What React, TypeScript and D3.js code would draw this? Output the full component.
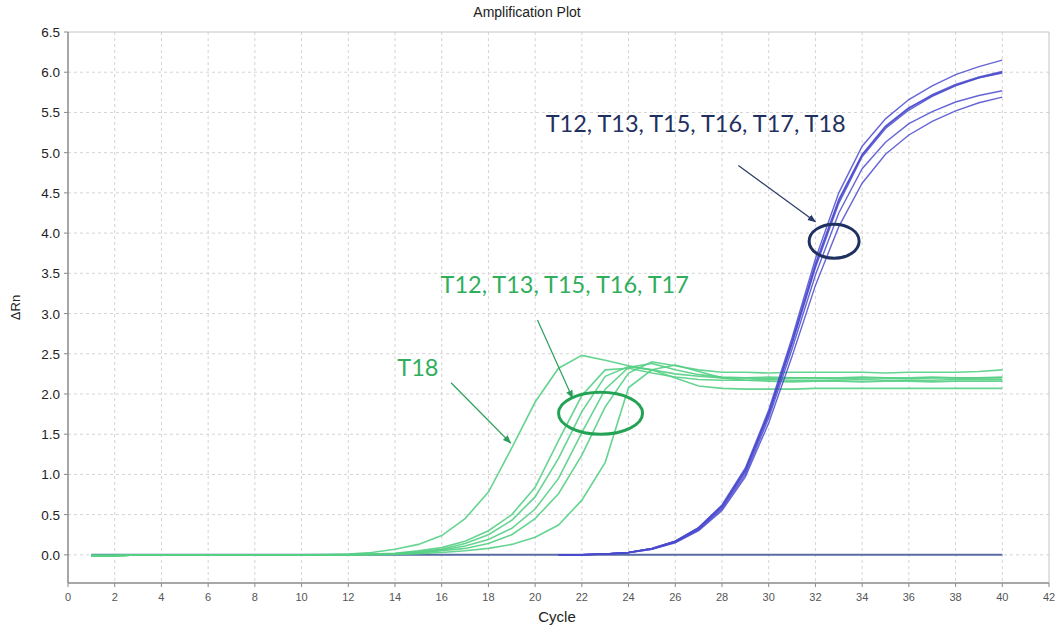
import React from 'react'
import * as d3 from 'd3'

// cycles 1..40
const cycles = d3.range(1, 41)
const blueCycles = d3.range(21, 41)

const xTicks = d3.range(0, 43, 2)
const yTicks = d3.range(0, 6.51, 0.5)

// green curves (earlier target)
const greenT18 = [-0.01, -0.01, 0, 0, 0, 0, 0, 0, 0, 0, 0.003, 0.01, 0.03, 0.07, 0.13, 0.24, 0.45, 0.78, 1.33, 1.9,
    2.32, 2.48, 2.42, 2.35, 2.3, 2.25, 2.22, 2.2, 2.2, 2.19, 2.2, 2.2, 2.19, 2.2, 2.2, 2.19, 2.2, 2.2, 2.2, 2.21]
const greenT12 = [-0.01, -0.01, 0, 0, 0, 0, 0, 0, 0, 0, 0, 0.003, 0.01, 0.02, 0.05, 0.09, 0.17, 0.3, 0.5, 0.84,
    1.42, 1.98, 2.3, 2.32, 2.26, 2.21, 2.18, 2.17, 2.17, 2.18, 2.17, 2.17, 2.17, 2.18, 2.17, 2.17, 2.17, 2.18, 2.18, 2.18]
const greenT13 = [-0.01, -0.01, 0, 0, 0, 0, 0, 0, 0, 0, 0, 0.002, 0.007, 0.015, 0.04, 0.07, 0.14, 0.25, 0.43, 0.72,
    1.2, 1.78, 2.22, 2.34, 2.3, 2.2, 2.1, 2.07, 2.06, 2.06, 2.06, 2.07, 2.07, 2.07, 2.07, 2.07, 2.07, 2.07, 2.07, 2.07]
const greenT15 = [-0.01, -0.01, 0, 0, 0, 0, 0, 0, 0, 0, 0, 0.002, 0.005, 0.01, 0.03, 0.06, 0.11, 0.19, 0.33, 0.57,
    0.95, 1.52, 2.06, 2.33, 2.38, 2.3, 2.24, 2.21, 2.2, 2.21, 2.2, 2.2, 2.2, 2.21, 2.2, 2.2, 2.21, 2.2, 2.2, 2.2]
const greenT16 = [-0.01, -0.01, 0, 0, 0, 0, 0, 0, 0, 0, 0, 0.001, 0.004, 0.008, 0.02, 0.05, 0.08, 0.14, 0.25, 0.45,
    0.76, 1.24, 1.84, 2.26, 2.4, 2.35, 2.3, 2.27, 2.27, 2.26, 2.27, 2.27, 2.27, 2.27, 2.26, 2.27, 2.27, 2.27, 2.28, 2.3]
const greenT17 = [-0.01, -0.01, 0, 0, 0, 0, 0, 0, 0, 0, 0, 0, 0.002, 0.006, 0.015, 0.03, 0.05, 0.08, 0.13, 0.22,
    0.37, 0.68, 1.15, 2.08, 2.3, 2.36, 2.28, 2.2, 2.17, 2.16, 2.15, 2.16, 2.16, 2.15, 2.16, 2.16, 2.15, 2.16, 2.16, 2.16]

// blue curves, cycles 21..40
const blueT12 = [0, 0.003, 0.01, 0.03, 0.08, 0.17, 0.34, 0.62, 1.08, 1.8, 2.7, 3.68, 4.5, 5.08, 5.42, 5.66, 5.83, 5.97, 6.07, 6.15]
const blueT13 = [0, 0.003, 0.01, 0.03, 0.08, 0.17, 0.33, 0.6, 1.05, 1.76, 2.64, 3.6, 4.4, 4.97, 5.32, 5.55, 5.72, 5.85, 5.94, 6.01]
const blueT15 = [0, 0.003, 0.01, 0.03, 0.075, 0.16, 0.32, 0.59, 1.03, 1.74, 2.62, 3.57, 4.37, 4.95, 5.3, 5.53, 5.7, 5.83, 5.93, 6.0]
const blueT16 = [0, 0.002, 0.01, 0.03, 0.08, 0.17, 0.34, 0.61, 1.06, 1.77, 2.66, 3.62, 4.42, 4.98, 5.33, 5.56, 5.71, 5.84, 5.93, 5.99]
const blueT17 = [0, 0.002, 0.01, 0.03, 0.07, 0.16, 0.31, 0.57, 1.0, 1.7, 2.56, 3.48, 4.25, 4.8, 5.13, 5.36, 5.51, 5.63, 5.71, 5.77]
const blueT18 = [0, 0.002, 0.01, 0.025, 0.07, 0.15, 0.3, 0.55, 0.97, 1.64, 2.47, 3.35, 4.08, 4.62, 4.98, 5.22, 5.39, 5.52, 5.62, 5.69]

// no-template baseline, cycles 1..40
const ntc = cycles.map(() => 0)

const greenSeries = [greenT18, greenT12, greenT13, greenT15, greenT16, greenT17]
const blueSeries = [blueT12, blueT13, blueT15, blueT16, blueT17, blueT18]

const NAVY = '#1f3160'
const GREEN_TXT = '#2fae5c'

const W = 1061
const H = 633
const margin = { top: 32, right: 12, bottom: 50, left: 68 }

export default function App() {
    const x = d3.scaleLinear().domain([0, 42]).range([margin.left, W - margin.right])
    const y = d3.scaleLinear().domain([-0.35, 6.5]).range([H - margin.bottom, margin.top])

    const line = d3
        .line<[number, number]>()
        .x((d) => x(d[0]))
        .y((d) => y(d[1]))

    const x0 = x(0)
    const x1 = x(42)
    const y0 = y(-0.35)
    const y1 = y(6.5)

    return (
        <svg width={W} height={H} style={{ position: 'absolute', left: 0, top: 0, background: '#fff' }}
            fontFamily="'Liberation Sans', Arial, sans-serif">
            <defs>
                <marker id="arrNavy" viewBox="0 0 10 10" refX="9" refY="5" markerWidth="7" markerHeight="7" orient="auto">
                    <path d="M0,1 L10,5 L0,9 z" fill="#2a3a66" />
                </marker>
                <marker id="arrGreen" viewBox="0 0 10 10" refX="9" refY="5" markerWidth="7" markerHeight="7" orient="auto">
                    <path d="M0,1 L10,5 L0,9 z" fill="#2a9e5a" />
                </marker>
            </defs>

            <text x={527} y={17} textAnchor="middle" fontSize={14} fill="#222">Amplification Plot</text>

            {/* grid */}
            {xTicks.filter((t) => t > 0 && t < 42).map((t) => (
                <line key={'gx' + t} x1={x(t)} x2={x(t)} y1={y1} y2={y0} stroke="#d4d4d4" strokeDasharray="3,3" />
            ))}
            {yTicks.filter((t) => t < 6.5).map((t) => (
                <line key={'gy' + t} x1={x0} x2={x1} y1={y(t)} y2={y(t)} stroke="#d4d4d4" strokeDasharray="3,3" />
            ))}

            {/* frame */}
            <line x1={x0} x2={x1} y1={y1} y2={y1} stroke="#c4c4c4" />
            <line x1={x1} x2={x1} y1={y1} y2={y0} stroke="#c4c4c4" />
            <line x1={x0} x2={x0} y1={y1} y2={y0} stroke="#8a8a8a" strokeWidth={1.5} />
            <line x1={x0} x2={x1} y1={y0} y2={y0} stroke="#8a8a8a" strokeWidth={1.5} />

            {/* y ticks */}
            {yTicks.map((t) => (
                <g key={'yt' + t}>
                    <line x1={x0 - 4} x2={x0} y1={y(t)} y2={y(t)} stroke="#8a8a8a" />
                    <text x={x0 - 8} y={y(t) + 5} textAnchor="end" fontSize={13.5} fill="#222">{t.toFixed(1)}</text>
                </g>
            ))}
            {/* x ticks */}
            {xTicks.map((t) => (
                <g key={'xt' + t}>
                    <line x1={x(t)} x2={x(t)} y1={y0} y2={y0 + 4} stroke="#8a8a8a" />
                    <text x={x(t)} y={y0 + 18} textAnchor="middle" fontSize={11} fill="#555">{t}</text>
                </g>
            ))}

            <text x={557} y={622} textAnchor="middle" fontSize={15} fill="#222">Cycle</text>
            <text transform={`translate(20,${(y0 + y1) / 2}) rotate(-90)`} textAnchor="middle" fontSize={13} fill="#222">ΔRn</text>

            {/* curves */}
            <path d={line(cycles.map((c, i) => [c, ntc[i]]))!} fill="none" stroke="#5a6ca6" strokeWidth={2} />
            {greenSeries.map((s, k) => (
                <path key={'g' + k} d={line(cycles.map((c, i) => [c, s[i]]))!} fill="none" stroke="#55cf85" strokeWidth={1.6} strokeOpacity={0.9} />
            ))}
            {blueSeries.map((s, k) => (
                <path key={'b' + k} d={line(blueCycles.map((c, i) => [c, s[i]]))!} fill="none" stroke="#4a4ace" strokeWidth={1.4} strokeOpacity={0.85} />
            ))}

            {/* annotations */}
            <text x={x(20.45)} y={y(5.26)} fontSize={23.5} fontFamily="Lato, 'Open Sans', sans-serif" fill={NAVY}>T12, T13, T15, T16, T17, T18</text>
            <line x1={x(28.7)} y1={y(4.84)} x2={x(32.0)} y2={y(4.14)} stroke="#2a3a66" strokeWidth={1.2} markerEnd="url(#arrNavy)" />
            <ellipse cx={x(32.8)} cy={y(3.9)} rx={25} ry={17} fill="none" stroke={NAVY} strokeWidth={3} />

            <text x={x(15.95)} y={y(3.25)} fontSize={23.5} fontFamily="Lato, 'Open Sans', sans-serif" fill={GREEN_TXT}>T12, T13, T15, T16, T17</text>
            <line x1={x(20.1)} y1={y(2.92)} x2={x(21.6)} y2={y(1.95)} stroke="#2a9e5a" strokeWidth={1.2} markerEnd="url(#arrGreen)" />
            <ellipse cx={x(22.8)} cy={y(1.76)} rx={42} ry={21} fill="none" stroke="#25a355" strokeWidth={3} />

            <text x={x(14.1)} y={y(2.22)} fontSize={23.5} fontFamily="Lato, 'Open Sans', sans-serif" fill={GREEN_TXT}>T18</text>
            <line x1={x(16.4)} y1={y(2.14)} x2={x(18.95)} y2={y(1.39)} stroke="#2a9e5a" strokeWidth={1.2} markerEnd="url(#arrGreen)" />
        </svg>
    )
}
